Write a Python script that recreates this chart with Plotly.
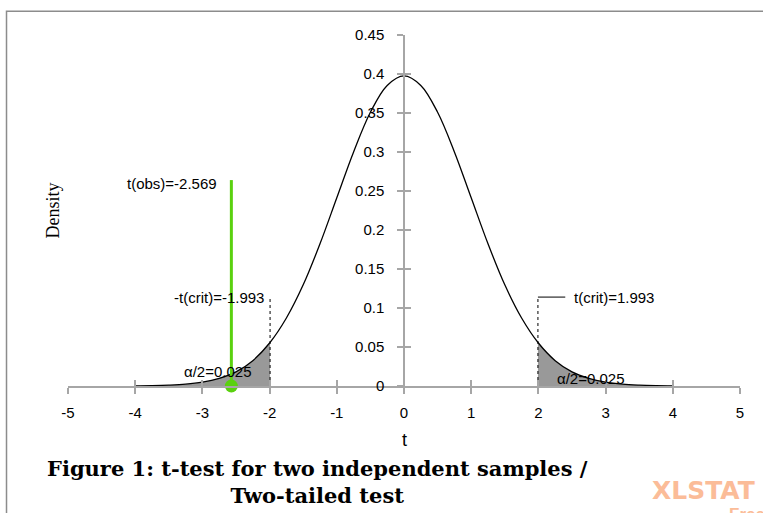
import plotly.graph_objects as go

# ---- data ----
t_values = [-4.0, -3.75, -3.5, -3.25, -3.0, -2.75, -2.5, -2.25, -2.0, -1.75, -1.5, -1.25, -1.0,
            -0.75, -0.5, -0.25, 0.0, 0.25, 0.5, 0.75, 1.0, 1.25, 1.5, 1.75, 2.0, 2.25, 2.5,
            2.75, 3.0, 3.25, 3.5, 3.75, 4.0]
density = [0.0002, 0.0005, 0.0011, 0.0023, 0.0049, 0.0098, 0.0181, 0.0325, 0.0551, 0.0872,
           0.1297, 0.1823, 0.2413, 0.3001, 0.3509, 0.3853, 0.3975, 0.3853, 0.3509, 0.3001,
           0.2413, 0.1823, 0.1297, 0.0872, 0.0551, 0.0325, 0.0181, 0.0098, 0.0049, 0.0023,
           0.0011, 0.0005, 0.0002]
t_crit = 1.993
density_at_crit = 0.0556
t_obs = -2.569
obs_line_top = 0.264
crit_line_top = 0.114
crit_label_end = 2.40
x_ticks = [-5, -4, -3, -2, -1, 0, 1, 2, 3, 4, 5]
x_tick_labels = ["-5", "-4", "-3", "-2", "-1", "0", "1", "2", "3", "4", "5"]
y_ticks = [0, 0.05, 0.1, 0.15, 0.2, 0.25, 0.3, 0.35, 0.4, 0.45]
y_tick_labels = ["0", "0.05", "0.1", "0.15", "0.2", "0.25", "0.3", "0.35", "0.4", "0.45"]

AXIS = "#a6a6a6"
FONT = "Liberation Sans"

# tails
left_x = [x for x in t_values if x <= -t_crit] + [-t_crit]
left_y = [d for x, d in zip(t_values, density) if x <= -t_crit] + [density_at_crit]
right_x = [t_crit] + [x for x in t_values if x >= t_crit]
right_y = [density_at_crit] + [d for x, d in zip(t_values, density) if x >= t_crit]

fig = go.Figure()
fig.add_trace(go.Scatter(x=left_x, y=left_y, fill="tozeroy", mode="lines",
                         line=dict(width=0, shape="spline"), fillcolor="#999999",
                         hoverinfo="skip", showlegend=False))
fig.add_trace(go.Scatter(x=right_x, y=right_y, fill="tozeroy", mode="lines",
                         line=dict(width=0, shape="spline"), fillcolor="#999999",
                         hoverinfo="skip", showlegend=False))
fig.add_trace(go.Scatter(x=t_values, y=density, mode="lines",
                         line=dict(color="black", width=1.3, shape="spline"),
                         showlegend=False))
# critical dashed lines
fig.add_trace(go.Scatter(x=[-t_crit, -t_crit], y=[0, crit_line_top], mode="lines",
                         line=dict(color="black", width=1, dash="dot"), showlegend=False))
fig.add_trace(go.Scatter(x=[t_crit, t_crit], y=[0, crit_line_top], mode="lines",
                         line=dict(color="black", width=1, dash="dot"), showlegend=False))
fig.add_trace(go.Scatter(x=[t_crit, crit_label_end], y=[crit_line_top, crit_line_top], mode="lines",
                         line=dict(color="black", width=1), showlegend=False))
# observed t
fig.add_trace(go.Scatter(x=[t_obs, t_obs], y=[0, obs_line_top], mode="lines",
                         line=dict(color="#5ad10f", width=3), showlegend=False))
fig.add_trace(go.Scatter(x=[t_obs], y=[0], mode="markers",
                         marker=dict(color="#5ad10f", size=13), showlegend=False,
                         cliponaxis=False))

txt = dict(family=FONT, size=15, color="black")
ann = [
    dict(x=-2.76, y=0.259, text="t(obs)=-2.569", xanchor="right", yanchor="middle", font=txt),
    dict(x=-2.06, y=0.113, text="-t(crit)=-1.993", xanchor="right", yanchor="middle", font=txt),
    dict(x=2.50, y=0.113, text="t(crit)=1.993", xanchor="left", yanchor="middle", font=txt),
    dict(x=-2.77, y=0.019, text="α/2=0.025", xanchor="center", yanchor="middle", font=txt),
    dict(x=2.77, y=0.009, text="α/2=0.025", xanchor="center", yanchor="middle", font=txt),
]
for a in ann:
    a.update(showarrow=False, xref="x", yref="y")

paper_ann = [
    dict(x=0.0, y=0.5, text="Density", textangle=-90, xref="paper", yref="paper",
         xanchor="center", yanchor="middle", xshift=-16,
         font=dict(family="Liberation Serif", size=18, color="black")),
    dict(x=0.5, y=-0.154, text="t", xref="paper", yref="paper",
         xanchor="center", yanchor="middle",
         font=dict(family=FONT, size=18, color="black")),
    dict(x=0.372, y=-0.274, text="<b>Figure 1: t-test for two independent samples /<br>Two-tailed test</b>",
         xref="paper", yref="paper", align="center", xanchor="center", yanchor="middle",
         font=dict(family="DejaVu Serif", size=21, color="black")),
    dict(x=0.866, y=-0.297, text="<b>XLSTAT</b>", xref="paper", yref="paper",
         xanchor="left", yanchor="middle",
         font=dict(family="DejaVu Sans", size=25, color="#fbbc98")),
    dict(x=0.98, y=-0.365, text="<b>Free</b>", xref="paper", yref="paper",
         xanchor="left", yanchor="middle",
         font=dict(family=FONT, size=17, color="#fbbc98")),
]
for a in paper_ann:
    a.update(showarrow=False)

fig.update_layout(
    width=763, height=513,
    margin=dict(l=68, r=23, t=35, b=127),
    plot_bgcolor="white", paper_bgcolor="white",
    annotations=ann + paper_ann,
    xaxis=dict(range=[-5, 5], tickvals=x_ticks, ticktext=x_tick_labels, showgrid=False,
               zeroline=False, showline=True, linecolor=AXIS, linewidth=1.5, ticks="outside",
               ticklen=6, tickcolor=AXIS, tickwidth=1.5, ticklabelstandoff=6,
               tickfont=dict(family=FONT, size=15, color="black")),
    xaxis2=dict(range=[-5, 5], tickvals=x_ticks, overlaying="x", showgrid=False,
                zeroline=False, ticks="inside", ticklen=6, tickcolor=AXIS, tickwidth=1.5,
                showticklabels=False, anchor="y", side="bottom"),
    yaxis=dict(range=[0, 0.45], tickvals=y_ticks, ticktext=y_tick_labels, showgrid=False,
               zeroline=False, anchor="free", position=0.5, showline=True, linecolor=AXIS,
               linewidth=1.5, ticks="outside", ticklen=6, tickcolor=AXIS, tickwidth=1.5,
               ticklabelstandoff=10,
               tickfont=dict(family=FONT, size=15, color="black")),
    yaxis2=dict(range=[0, 0.45], tickvals=y_ticks, overlaying="y", showgrid=False,
                zeroline=False, anchor="free", position=0.5, ticks="inside", ticklen=6,
                tickcolor=AXIS, tickwidth=1.5, showticklabels=False, side="left"),
    shapes=[dict(type="rect", xref="paper", yref="paper", x0=-0.0915, x1=1.2,
                 y0=-0.5, y1=1.068, line=dict(color="#8c8c8c", width=1.5))],
)
# dummy trace to activate secondary axes
fig.add_trace(go.Scatter(x=[None], y=[None], xaxis="x2", yaxis="y2", showlegend=False))

# remove the default page margin so the 763x513 figure fills the window exactly
fig.write_html("out.html", config={"displayModeBar": False},
               post_script="document.body.style.margin='0';")
